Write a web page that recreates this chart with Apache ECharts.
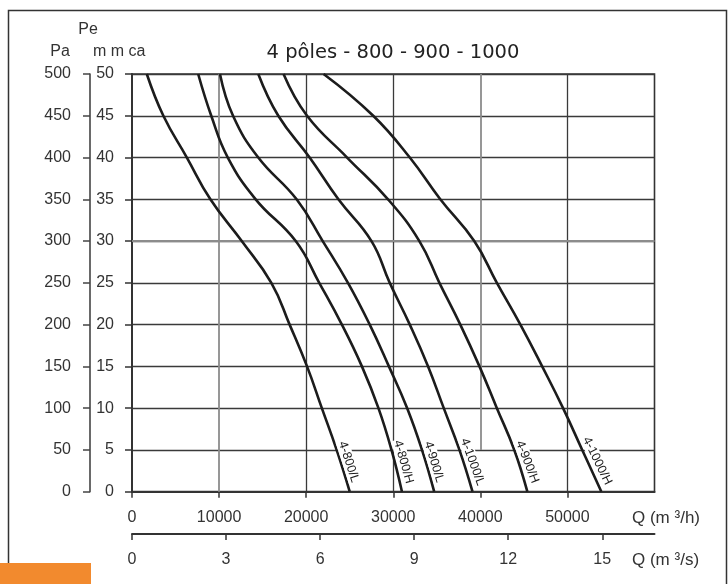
<!DOCTYPE html>
<html>
<head>
<meta charset="utf-8">
<script src="https://cdn.jsdelivr.net/npm/echarts@6/dist/echarts.min.js"></script>
<style>
html, body { margin: 0; padding: 0; background: #fff; }
#chart { width: 728px; height: 584px; }
</style>
</head>
<body>
<div id="chart"></div>
<script>
// pressure levels (mm ca) at which each curve was read
const pe = [50, 45, 40, 35, 30, 25, 20, 15, 10, 5, 0];

// flow (m3/h) of each curve at those levels
const q800L = [1700, 3600, 6300, 9000, 12600, 16000, 18100, 20100, 21800, 23500, 25000];
const q800H = [7600, 9100, 11000, 14200, 18800, 21500, 24100, 26400, 28300, 29800, 31000];
const q900L = [10100, 11600, 14500, 18900, 21900, 24800, 27300, 29500, 31600, 33300, 34700];
const q1000L = [14500, 16800, 20400, 23700, 27500, 29600, 31900, 34000, 35800, 37600, 39100];
const q900H = [17400, 20100, 24700, 29400, 33000, 35300, 37700, 39900, 41900, 43900, 45400];
const q1000H = [22000, 27700, 31900, 35400, 39300, 41900, 44600, 47100, 49500, 51700, 53900];

const curveNames = ['4-800/L', '4-800/H', '4-900/L', '4-1000/L', '4-900/H', '4-1000/H'];
const curveQ = [q800L, q800H, q900L, q1000L, q900H, q1000H];

const qTicks = [0, 10000, 20000, 30000, 40000, 50000];
const qsTicks = [0, 3, 6, 9, 12, 15];
const qMax = 60000;

// vertical grid lines and where they start (mm ca)
const vGridQ = [10000, 20000, 30000, 40000, 50000];
const vGridFrom = [0, 0, 0, 5, 0];
const vGridGray = [true, false, false, true, false];

const labelRot = [-72, -74, -73, -70, -69, -64];
const labelPos = [[13, 13], [13, 13], [13, 13], [14, 13], [14, 13], [16, 12]];

const textColor = '#333';
const font = 'Liberation Sans, Arial, sans-serif';

const chart = echarts.init(document.getElementById('chart'));

const gridMarks = vGridQ.map((q, i) => {
	const ls = { color: vGridGray[i] ? '#8c8c8c' : '#3a3a3a', width: vGridGray[i] ? 1.8 : 1.3, type: 'solid' };
	return [{ coord: [q, vGridFrom[i]], lineStyle: ls }, { coord: [q, 50], lineStyle: ls }];
});
const ls30 = { color: '#8c8c8c', width: 2, type: 'solid' };
gridMarks.push([{ coord: [0, 30], lineStyle: ls30 }, { coord: [qMax, 30], lineStyle: ls30 }]);

const series = [{
	type: 'line',
	data: [],
	silent: true,
	markLine: {
		z: 1,
		silent: true,
		symbol: 'none',
		label: { show: false },
		animation: false,
		data: gridMarks
	}
}];

curveQ.forEach((qs, i) => {
	series.push({
		name: curveNames[i],
		type: 'line',
		xAxisIndex: 0,
		yAxisIndex: 0,
		data: qs.map((q, k) => [q, pe[k]]),
		showSymbol: false,
		smooth: 0.45,
		lineStyle: { color: '#1c1c1c', width: 2.6 },
		markPoint: {
			symbol: 'circle',
			symbolSize: 2,
			itemStyle: { color: 'rgba(0,0,0,0)' },
			animation: false,
			data: [{ coord: [qs[9], pe[9]], value: curveNames[i] }],
			label: {
				show: true,
				formatter: curveNames[i],
				position: labelPos[i],
				align: 'center',
				verticalAlign: 'middle',
				rotate: labelRot[i],
				fontFamily: font,
				fontSize: 12.5,
				color: '#1c1c1c',
				backgroundColor: '#fff',
				padding: [0, 1]
			}
		}
	});
});

const plain = (v) => String(v);

chart.setOption({
	animation: false,
	grid: {
		left: 132,
		top: 74,
		width: 522.5,
		height: 417.7,
		show: true,
		borderColor: '#333',
		borderWidth: 1.6
	},
	xAxis: [{
		type: 'value',
		min: 0,
		max: qMax,
		interval: 10000,
		position: 'bottom',
		axisLine: { show: true, onZero: false, lineStyle: { color: '#333', width: 2 } },
		axisTick: { show: true, length: 6, customValues: qTicks, lineStyle: { color: '#333', width: 1.5 } },
		axisLabel: { customValues: qTicks, formatter: plain, margin: 18, fontFamily: font, fontSize: 16, color: textColor },
		splitLine: { show: false }
	}, {
		type: 'value',
		min: 0,
		max: qMax / 3600,
		position: 'bottom',
		offset: 42.3,
		axisLine: { show: true, onZero: false, lineStyle: { color: '#333', width: 2 } },
		axisTick: { show: true, length: 6, customValues: qsTicks, lineStyle: { color: '#333', width: 1.5 } },
		axisLabel: { customValues: qsTicks, formatter: plain, margin: 18, fontFamily: font, fontSize: 16, color: textColor },
		splitLine: { show: false }
	}],
	yAxis: [{
		type: 'value',
		min: 0,
		max: 50,
		interval: 5,
		position: 'left',
		axisLine: { show: true, onZero: false, lineStyle: { color: '#333', width: 2 } },
		axisTick: { show: true, length: 7, lineStyle: { color: '#333', width: 1.5 } },
		axisLabel: { margin: 18, fontFamily: font, fontSize: 16, color: textColor },
		splitLine: { show: true, lineStyle: { color: '#3a3a3a', width: 1.3 } }
	}, {
		type: 'value',
		min: 0,
		max: 500,
		interval: 50,
		position: 'left',
		offset: 42,
		axisLine: { show: true, onZero: false, lineStyle: { color: '#444', width: 1.6 } },
		axisTick: { show: true, length: 7, lineStyle: { color: '#444', width: 1.5 } },
		axisLabel: { margin: 19, fontFamily: font, fontSize: 16, color: textColor },
		splitLine: { show: false }
	}],
	series,
	graphic: [
		{
			type: 'polyline',
			silent: true,
			shape: { points: [[8.5, 563], [8.5, 10.5], [726.5, 10.5], [726.5, 584]] },
			style: { stroke: '#333', lineWidth: 1.5, fill: null }
		},
		{
			type: 'rect',
			silent: true,
			shape: { x: 0, y: 563, width: 91, height: 21 },
			style: { fill: '#f28a2e' }
		},
		{
			type: 'text', silent: true, x: 393, y: 53,
			style: { text: '4 pôles - 800 - 900 - 1000', font: '19.5px DejaVu Sans', fill: '#222', align: 'center', verticalAlign: 'middle' }
		},
		{
			type: 'text', silent: true, x: 88, y: 30,
			style: { text: 'Pe', font: '16px Liberation Sans', fill: textColor, align: 'center', verticalAlign: 'middle' }
		},
		{
			type: 'text', silent: true, x: 60, y: 52,
			style: { text: 'Pa', font: '16px Liberation Sans', fill: textColor, align: 'center', verticalAlign: 'middle' }
		},
		{
			type: 'text', silent: true, x: 93, y: 52,
			style: { text: 'm m ca', font: '16px Liberation Sans', fill: textColor, align: 'left', verticalAlign: 'middle' }
		},
		{
			type: 'text', silent: true, x: 632, y: 518,
			style: { text: 'Q (m ³/h)', font: '17px Liberation Sans', fill: textColor, align: 'left', verticalAlign: 'middle' }
		},
		{
			type: 'text', silent: true, x: 632, y: 560,
			style: { text: 'Q (m ³/s)', font: '17px Liberation Sans', fill: textColor, align: 'left', verticalAlign: 'middle' }
		}
	]
});
</script>
</body>
</html>
